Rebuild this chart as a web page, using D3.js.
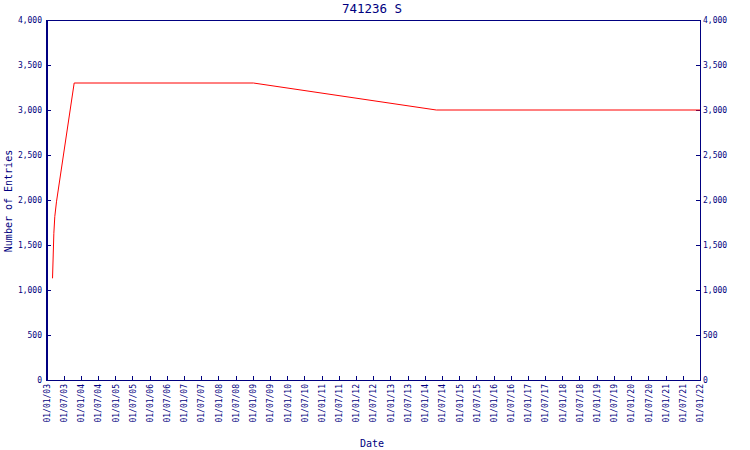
<!DOCTYPE html>
<html><head><meta charset="utf-8">
<script src="https://cdn.jsdelivr.net/npm/d3@7"></script>
<style>
body{margin:0;background:#fff;}
text{font-family:"DejaVu Sans Mono",monospace;fill:#000080;}
</style></head>
<body><svg id="c" width="750" height="450"></svg>
<script>
const title = "741236 S";
const xLabel = "Date";
const yLabel = "Number of Entries";
const dates = ["2003-03-06","2003-03-20","2003-03-30","2003-04-17","2003-10-22","2009-01-06","2014-05-03","2022-01-01"];
const entries = [1130,1630,1815,1980,3300,3300,3000,3000];
const yTicks = [0,500,1000,1500,2000,2500,3000,3500,4000];
const xStart = "2003-01-01", xEnd = "2022-01-01";

const parse = d3.timeParse("%Y-%m-%d");
const data = dates.map((d,i)=>({date:parse(d), v:entries[i]}));
const svg = d3.select("#c");
const L=46.5, R=700, T=20, B=380;
const navy="#000080";
const x = d3.scaleTime().domain([parse(xStart),parse(xEnd)]).range([L,R]);
const y = d3.scaleLinear().domain([0,4000]).range([B,T]);

// frame
svg.append("rect").attr("x",L).attr("y",T).attr("width",R-L).attr("height",B-T)
  .attr("fill","none").attr("stroke",navy).attr("stroke-width",1).attr("shape-rendering","crispEdges");

const fmtY = d3.format(",");
const left = svg.append("g").attr("transform",`translate(${L},0)`)
  .call(d3.axisLeft(y).tickValues(yTicks).tickSizeInner(-4).tickSizeOuter(0).tickPadding(4.5).tickFormat(fmtY));
const right = svg.append("g").attr("transform",`translate(${R},0)`)
  .call(d3.axisRight(y).tickValues(yTicks).tickSizeInner(-4).tickSizeOuter(0).tickPadding(3).tickFormat(fmtY));
const xt = x.ticks(d3.timeMonth.every(6));
const bottom = svg.append("g").attr("transform",`translate(0,${B})`)
  .call(d3.axisBottom(x).tickValues(xt).tickSizeInner(-4).tickSizeOuter(0).tickFormat(d3.timeFormat("%d/%m/%y")));
bottom.selectAll("text").attr("transform","rotate(-90)").attr("text-anchor","end")
  .attr("x",-4).attr("y",0).attr("dy","0.35em");
[left,right,bottom].forEach(g=>{
  g.select(".domain").attr("stroke",navy).attr("shape-rendering","crispEdges");
  g.selectAll(".tick line").attr("stroke",navy).attr("shape-rendering","crispEdges");
  g.selectAll("text").attr("fill",navy).style("font-size","8px").style("font-family","'DejaVu Sans Mono',monospace");
});

svg.append("path").datum(data)
  .attr("d",d3.line().x(d=>x(d.date)).y(d=>y(d.v)))
  .attr("fill","none").attr("stroke","#ff0000").attr("stroke-width",1);

svg.append("text").attr("x",372).attr("y",13).attr("text-anchor","middle")
  .style("font-size","12.5px").text(title);
svg.append("text").attr("x",372).attr("y",447).attr("text-anchor","middle")
  .style("font-size","10px").text(xLabel);
svg.append("text").attr("transform","translate(12,201) rotate(-90)").attr("text-anchor","middle")
  .style("font-size","10px").text(yLabel);
</script></body></html>
